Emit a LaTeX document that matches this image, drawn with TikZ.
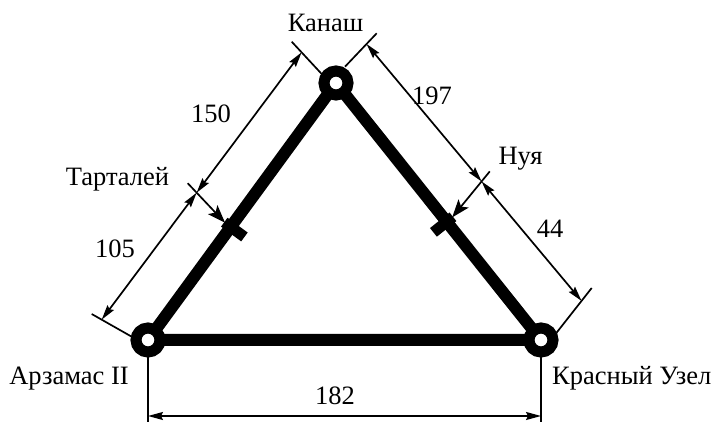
\documentclass[tikz,border=0pt]{standalone}
\usepackage{fontspec}
\setmainfont{Liberation Serif}
\usetikzlibrary{calc,arrows.meta}
\begin{document}
\begin{tikzpicture}[x=1pt,y=-1pt,
  track/.style={line width=12pt,line join=miter},
  station/.style={circle,draw,line width=11pt,minimum size=24pt,inner sep=0pt,fill=white},
  thinline/.style={line width=1.7pt},
  dimline/.style={thinline,{Stealth[length=15pt,width=8pt,inset=2pt]}-{Stealth[length=15pt,width=8pt,inset=2pt]}},
  pointer/.style={thinline,-{Stealth[length=18pt,width=13pt,inset=4pt]}},
  sepbar/.style={line width=11pt},
  lbl/.style={font=\fontsize{26.5}{30}\selectfont,inner sep=0pt,anchor=base}
]
\useasboundingbox (0,0) rectangle (716,422);
% stations
\coordinate (a) at (148,340);
\coordinate (k) at (336,83);
\coordinate (r) at (541,340);
\coordinate (t) at ($(a)!0.44!(k)$);
\coordinate (n) at ($(k)!0.54!(r)$);
% track
\draw[track] (a) -- (k) -- (r) -- cycle;
% separation marks
\draw[sepbar] ($(t)!8pt!90:(k)$) -- ($(t)!17pt!-90:(k)$);
\draw[sepbar] ($(n)!8pt!-90:(k)$) -- ($(n)!17pt!90:(k)$);
\coordinate (ttip) at ($(t)!7pt!90:(k)$);
\coordinate (ntip) at ($(n)!7pt!-90:(k)$);
% station circles
\node[station] (A) at (a) {};
\node[station] (K) at (k) {};
\node[station] (R) at (r) {};
% extension lines
\coordinate (la1) at (131.7,336.7); \coordinate (la2) at (91.7,314);
\coordinate (lk1) at (321.7,74);    \coordinate (lk2) at (291.7,41.7);
\coordinate (rk1) at (345,66.7);    \coordinate (rk2) at (376.7,33.3);
\coordinate (rr1) at (556.7,332.5); \coordinate (rr2) at (591.7,288);
\draw[thinline] (la1) -- (la2);
\draw[thinline] (lk1) -- (lk2);
\draw[thinline] (rk1) -- (rk2);
\draw[thinline] (rr1) -- (rr2);
\coordinate (ba) at (148,422);
\coordinate (br) at (541,422);
\draw[thinline] (A.south) -- (ba);
\draw[thinline] (R.south) -- (br);
% dimension points
\coordinate (dl1) at ($(la1)!0.75!(la2)$);
\coordinate (dl2) at ($(lk1)!0.67!(lk2)$);
\coordinate (dlt) at ($(dl1)!0.475!(dl2)$);
\coordinate (dr1) at ($(rk1)!0.68!(rk2)$);
\coordinate (dr2) at ($(rr1)!0.71!(rr2)$);
\coordinate (drn) at ($(dr1)!0.535!(dr2)$);
\coordinate (db1) at (148,416);
\coordinate (db2) at (541,416);
% pointer lines to separation points
\coordinate (ts) at ($(dlt)!-13pt!(ttip)$);
\coordinate (ns) at ($(drn)!-13pt!(ntip)$);
\draw[pointer] (ts) -- (ttip);
\draw[pointer] (ns) -- (ntip);
% dimension lines
\draw[dimline] (dl1) -- (dlt);
\draw[dimline] (dlt) -- (dl2);
\draw[dimline] (dr1) -- (drn);
\draw[dimline] (drn) -- (dr2);
\draw[dimline] (db1) -- (db2);
% labels
\node[lbl] (lk) at (325.5,32) {Канаш};
\node[lbl] (l150) at (211,123) {150};
\node[lbl] (lt) at (117.5,186) {Тарталей};
\node[lbl] (l105) at (115,258) {105};
\node[lbl] (la) at (69,385) {Арзамас II};
\node[lbl] (l197) at (432,105) {197};
\node[lbl] (ln) at (520.5,165) {Нуя};
\node[lbl] (l44) at (550,238) {44};
\node[lbl,anchor=base west] (lr) at (552,385) {Красный Узел};
\node[lbl] (l182) at (335,405) {182};
\end{tikzpicture}
\end{document}
